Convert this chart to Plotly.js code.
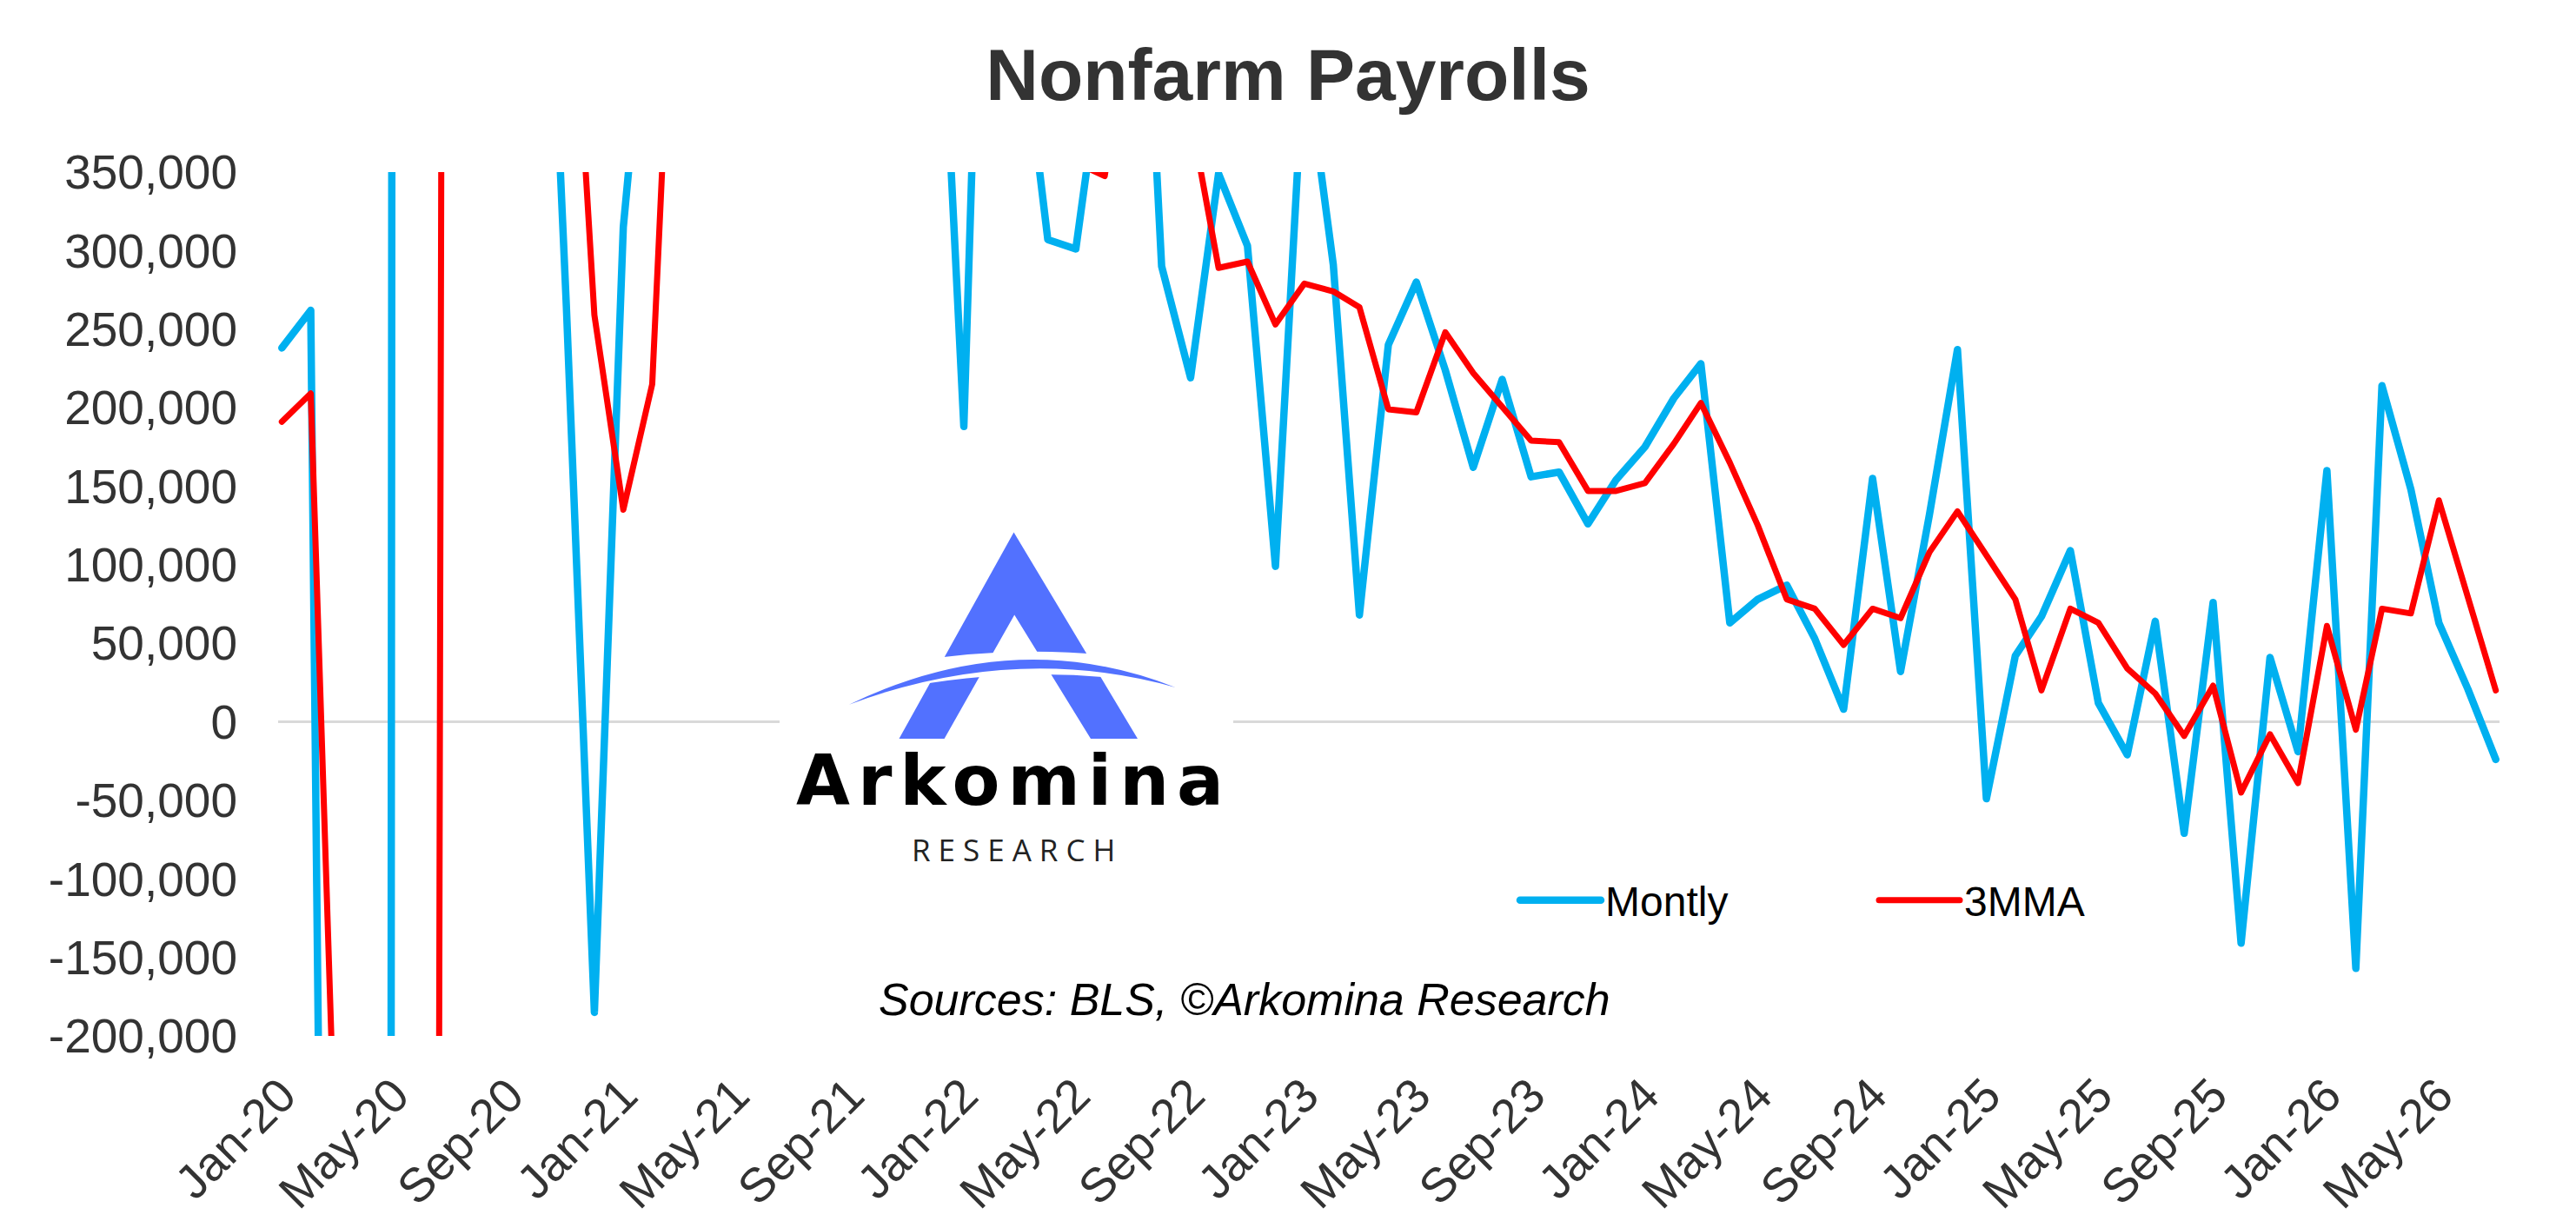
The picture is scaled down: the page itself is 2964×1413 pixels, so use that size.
<!DOCTYPE html>
<html>
<head>
<meta charset="utf-8">
<script src="https://cdn.plot.ly/plotly-3.0.1.min.js"></script>
<style>
  html, body { margin: 0; padding: 0; background: #fff; }
  #chart { width: 2964px; height: 1413px; }
</style>
</head>
<body>
<div id="chart"></div>
<script>
// months Jan-20 .. Jul-26
let months = [
    '2020-01-01','2020-02-01','2020-03-01','2020-04-01','2020-05-01','2020-06-01','2020-07-01','2020-08-01','2020-09-01','2020-10-01','2020-11-01','2020-12-01',
    '2021-01-01','2021-02-01','2021-03-01','2021-04-01','2021-05-01','2021-06-01','2021-07-01','2021-08-01','2021-09-01','2021-10-01','2021-11-01','2021-12-01',
    '2022-01-01','2022-02-01','2022-03-01','2022-04-01','2022-05-01','2022-06-01','2022-07-01','2022-08-01','2022-09-01','2022-10-01','2022-11-01','2022-12-01',
    '2023-01-01','2023-02-01','2023-03-01','2023-04-01','2023-05-01','2023-06-01','2023-07-01','2023-08-01','2023-09-01','2023-10-01','2023-11-01','2023-12-01',
    '2024-01-01','2024-02-01','2024-03-01','2024-04-01','2024-05-01','2024-06-01','2024-07-01','2024-08-01','2024-09-01','2024-10-01','2024-11-01','2024-12-01',
    '2025-01-01','2025-02-01','2025-03-01','2025-04-01','2025-05-01','2025-06-01','2025-07-01','2025-08-01','2025-09-01','2025-10-01','2025-11-01','2025-12-01',
    '2026-01-01','2026-02-01','2026-03-01','2026-04-01','2026-05-01','2026-06-01','2026-07-01'
];

// monthly change (off-scale months estimated from the line slopes)
let monthly = [
    238000, 262000, -1400000, -20500000, 2800000, 4800000, 1700000, 1500000, 700000, 680000, 264000, -185000,
    315000, 510000, 900000, 650000, 450000, 600000, 950000, 650000, 500000, 700000, 650000, 560000,
    188000, 780000, 460000, 307000, 301000, 435000, 650000, 290000, 219000, 349000, 303000, 99000,
    430000, 291000, 68000, 240000, 280000, 224000, 162000, 218000, 156000, 159000, 126000, 154000,
    175000, 206000, 228000, 63000, 78000, 87000, 53000, 8000, 155000, 32000, 132000, 237000,
    -49000, 42000, 67000, 109000, 12000, -21000, 64000, -71000, 76000, -141000, 41000, -19000,
    160000, -157000, 214000, 148000, 63000, 21000, -24000
];

// 3 month moving average
let mma3 = [
    191000, 209000, -330000, -7200000, -6400000, -4300000, 3100000, 2700000, 1330000, 990000, 553000, 259000,
    135000, 215000, 575000, 687000, 667000, 567000, 667000, 733000, 700000, 617000, 617000, 637000,
    466000, 509000, 476000, 516000, 356000, 347500, 462000, 458000, 386000, 289000, 293000, 253000,
    279000, 274000, 264000, 199000, 197000, 248000, 222000, 201000, 179000, 178000, 147000, 147000,
    152000, 177000, 203000, 165000, 125000, 78000, 72000, 49000, 72000, 66000, 108000, 134000,
    106000, 78000, 20000, 72000, 63000, 34000, 18000, -9000, 23000, -45000, -8000, -39000,
    61000, -5000, 72000, 69000, 141000, 78000, 20000
];

let yTickVals = [-200000, -150000, -100000, -50000, 0, 50000, 100000, 150000, 200000, 250000, 300000, 350000];
let yTickText = ['-200,000', '-150,000', '-100,000', '-50,000', '0', '50,000', '100,000', '150,000', '200,000', '250,000', '300,000', '350,000'];

const W = 2964, H = 1413;
const M = {l: 320, r: 88, t: 198, b: 221};
const plotW = W - M.l - M.r;
const plotH = H - M.t - M.b;
const FONT = 'Liberation Sans, Arial, Helvetica, sans-serif';

// pixel -> paper helpers for the logo
function px(x){ return (x - M.l) / plotW; }
function py(y){ return (H - M.b - y) / plotH; }
function pt(x, y){ return px(x).toFixed(5) + ',' + py(y).toFixed(5); }

let trace1 = {
    x: months,
    y: monthly,
    name: 'Montly',
    mode: 'lines',
    line: {color: '#00B0F0', width: 8.5}
};
let trace2 = {
    x: months,
    y: mma3,
    name: '3MMA',
    mode: 'lines',
    line: {color: '#FF0000', width: 7}
};

let logoBlue = '#5271FF';
let shapes = [
    // white logo background hides the zero line
    {type: 'rect', xref: 'paper', yref: 'paper', x0: px(897), x1: px(1419), y0: py(1010), y1: py(600),
     fillcolor: '#ffffff', line: {width: 0}, layer: 'above'},
    {type: 'path', xref: 'paper', yref: 'paper', layer: 'above', fillcolor: logoBlue, line: {width: 0},
     path: 'M' + pt(1166.5, 612.6) + ' L' + pt(1034.5, 850) + ' L' + pt(1086.6, 850) + ' L' + pt(1167.2, 707.5) +
           ' L' + pt(1255, 850) + ' L' + pt(1309, 850) + ' Z'},
    {type: 'path', xref: 'paper', yref: 'paper', layer: 'above', fillcolor: '#ffffff', line: {width: 0},
     path: 'M' + pt(1025, 765) + ' Q' + pt(1170, 738) + ' ' + pt(1315, 759) + ' L' + pt(1315, 784) +
           ' Q' + pt(1170, 764) + ' ' + pt(1025, 794) + ' Z'},
    {type: 'path', xref: 'paper', yref: 'paper', layer: 'above', fillcolor: logoBlue, line: {width: 0},
     path: 'M' + pt(977, 810.7) + ' Q' + pt(1168, 718.4) + ' ' + pt(1352.5, 790.9) +
           ' Q' + pt(1168, 739.2) + ' ' + pt(977, 810.7) + ' Z'}
];

let annotations = [
    {text: 'Arkomina', xref: 'paper', yref: 'paper', x: px(1166), y: py(898), xanchor: 'center', yanchor: 'middle',
     showarrow: false, font: {family: 'DejaVu Sans, sans-serif', size: 80, color: '#000', weight: 700}},
    {text: 'RESEARCH', xref: 'paper', yref: 'paper', x: px(1170), y: py(977), xanchor: 'center', yanchor: 'middle',
     showarrow: false, font: {family: 'Open Sans, sans-serif', size: 35, color: '#222'}},
    {text: 'Sources: BLS, ©Arkomina Research', xref: 'paper', yref: 'paper', x: px(1432), y: py(1150),
     xanchor: 'center', yanchor: 'middle', showarrow: false,
     font: {family: FONT, size: 52, color: '#000', style: 'italic'}}
];

let layout = {
    width: W,
    height: H,
    margin: M,
    paper_bgcolor: '#ffffff',
    plot_bgcolor: '#ffffff',
    font: {family: FONT, color: '#333333'},
    title: {text: 'Nonfarm Payrolls', x: 0.5, xanchor: 'center', y: 1 - 86 / H, yanchor: 'middle',
            font: {family: FONT, size: 84, color: '#333333', weight: 700}},
    xaxis: {
        type: 'date',
        range: ['2019-12-28', '2026-07-05'],
        tick0: '2020-01-01',
        dtick: 'M4',
        tickformat: '%b-%y',
        tickangle: -45,
        ticks: '',
        ticklabelstandoff: 24,
        showgrid: false,
        zeroline: false,
        showline: false,
        tickfont: {family: FONT, size: 55, color: '#333333'}
    },
    yaxis: {
        range: [-200000, 350000],
        tickvals: yTickVals,
        ticktext: yTickText,
        ticks: '',
        ticklabelstandoff: 46,
        showgrid: false,
        showline: false,
        zeroline: true,
        zerolinecolor: '#d9d9d9',
        zerolinewidth: 3,
        tickfont: {family: FONT, size: 55, color: '#333333'}
    },
    showlegend: true,
    legend: {
        orientation: 'h',
        x: px(1744), xanchor: 'left',
        y: py(1036), yanchor: 'middle',
        itemwidth: 93,
        entrywidth: 305,
        bgcolor: 'rgba(0,0,0,0)',
        font: {family: FONT, size: 48, color: '#000000'}
    },
    shapes: shapes,
    annotations: annotations
};

Plotly.newPlot('chart', [trace1, trace2], layout, {staticPlot: true, displayModeBar: false}).then(() => {
    // round joins like the original chart
    document.querySelectorAll('.js-line, .legendlines path').forEach(p => {
        p.style.strokeLinejoin = 'round';
        p.style.strokeLinecap = 'round';
    });
    document.querySelectorAll('.annotation-text').forEach(t => {
        if(t.textContent === 'Arkomina') t.style.letterSpacing = '9px';
        if(t.textContent === 'RESEARCH') t.style.letterSpacing = '9px';
    });
});
</script>
</body>
</html>
